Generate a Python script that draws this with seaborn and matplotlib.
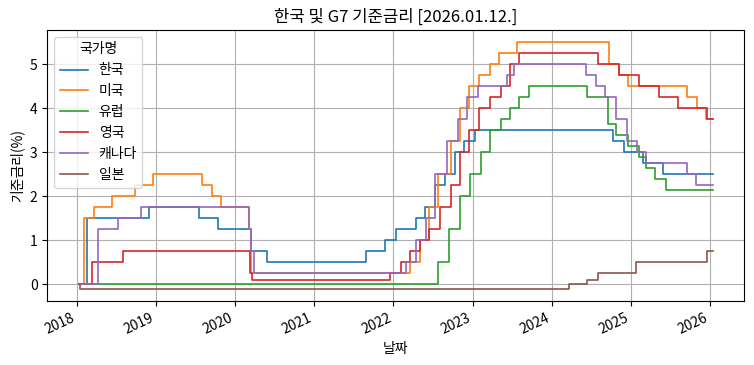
import matplotlib
matplotlib.use("Agg")
import matplotlib.pyplot as plt
import seaborn as sns
import pandas as pd

plt.rcParams['font.family'] = ['Noto Sans CJK KR', 'DejaVu Sans']
plt.rcParams['axes.unicode_minus'] = False

countries = ["한국", "미국", "유럽", "영국", "캐나다", "일본"]

dates_kr = ["2018-01-12", "2018-02-19", "2018-11-30", "2019-07-18", "2019-10-16", "2020-03-17",
            "2020-05-28", "2021-08-26", "2021-11-25", "2022-01-14", "2022-04-14", "2022-05-26",
            "2022-07-13", "2022-08-25", "2022-10-12", "2022-11-24", "2023-01-13", "2024-10-11",
            "2024-11-28", "2025-02-25", "2025-05-29", "2026-01-12"]
vals_kr = [0, 1.5, 1.75, 1.5, 1.25, 0.75, 0.5, 0.75, 1.0, 1.25, 1.5, 1.75,
           2.25, 2.5, 3.0, 3.25, 3.5, 3.25, 3.0, 2.75, 2.5, 2.5]

dates_us = ["2018-01-12", "2018-02-03", "2018-03-22", "2018-06-14", "2018-09-27", "2018-12-20",
            "2019-08-01", "2019-09-19", "2019-10-31", "2020-03-04", "2020-03-16", "2022-03-17",
            "2022-05-05", "2022-06-16", "2022-07-28", "2022-09-22", "2022-11-03", "2022-12-15",
            "2023-02-02", "2023-03-23", "2023-05-04", "2023-07-27", "2024-09-19", "2024-11-08",
            "2024-12-19", "2025-09-18", "2025-10-30", "2025-12-11", "2026-01-12"]
vals_us = [0, 1.5, 1.75, 2.0, 2.25, 2.5, 2.25, 2.0, 1.75, 1.25, 0.25, 0.5,
           1.0, 1.75, 2.5, 3.25, 4.0, 4.5, 4.75, 5.0, 5.25, 5.5, 5.0, 4.75,
           4.5, 4.25, 4.0, 3.75, 3.75]

dates_eu = ["2018-01-12", "2022-07-27", "2022-09-14", "2022-11-02", "2022-12-21", "2023-02-08",
            "2023-03-22", "2023-05-10", "2023-06-21", "2023-08-02", "2023-09-20", "2024-06-12",
            "2024-09-18", "2024-10-23", "2024-12-18", "2025-02-05", "2025-03-12", "2025-04-23",
            "2025-06-11", "2026-01-12"]
vals_eu = [0, 0.5, 1.25, 2.0, 2.5, 3.0, 3.5, 3.75, 4.0, 4.25, 4.5, 4.25,
           3.65, 3.4, 3.15, 2.9, 2.65, 2.4, 2.15, 2.15]

dates_uk = ["2018-01-12", "2018-03-15", "2018-08-02", "2020-03-11", "2020-03-19", "2021-12-16",
            "2022-02-03", "2022-03-17", "2022-05-05", "2022-06-16", "2022-08-04", "2022-09-22",
            "2022-11-03", "2022-12-15", "2023-02-02", "2023-03-23", "2023-05-11", "2023-06-22",
            "2023-08-03", "2024-08-01", "2024-11-07", "2025-02-06", "2025-05-08", "2025-08-07",
            "2025-12-18", "2026-01-12"]
vals_uk = [0, 0.5, 0.75, 0.25, 0.1, 0.25, 0.5, 0.75, 1.0, 1.25, 1.75, 2.25,
           3.0, 3.5, 4.0, 4.25, 4.5, 5.0, 5.25, 5.0, 4.75, 4.5, 4.25, 4.0,
           3.75, 3.75]

dates_ca = ["2018-01-12", "2018-04-08", "2018-07-11", "2018-10-24", "2020-03-04", "2020-03-16",
            "2020-03-27", "2022-03-02", "2022-04-13", "2022-06-01", "2022-07-13", "2022-09-07",
            "2022-10-26", "2022-12-07", "2023-01-25", "2023-06-07", "2023-07-12", "2024-06-05",
            "2024-07-24", "2024-09-04", "2024-10-23", "2024-12-11", "2025-01-29", "2025-03-12",
            "2025-09-17", "2025-10-29", "2026-01-12"]
vals_ca = [0, 1.25, 1.5, 1.75, 1.25, 0.75, 0.25, 0.5, 1.0, 1.5, 2.5, 3.25,
           3.75, 4.25, 4.5, 4.75, 5.0, 4.75, 4.5, 4.25, 3.75, 3.25, 3.0, 2.75,
           2.5, 2.25, 2.25]

dates_jp = ["2018-01-12", "2018-01-16", "2024-03-19", "2024-06-10", "2024-07-31", "2025-01-24",
            "2025-12-19", "2026-01-12"]
vals_jp = [0, -0.1, 0.0, 0.1, 0.25, 0.5, 0.75, 0.75]

series = [(dates_kr, vals_kr), (dates_us, vals_us), (dates_eu, vals_eu),
          (dates_uk, vals_uk), (dates_ca, vals_ca), (dates_jp, vals_jp)]

frames = []
for name, (d, v) in zip(countries, series):
    frames.append(pd.DataFrame({"날짜": pd.to_datetime(d), "기준금리(%)": v, "국가명": name}))
df = pd.concat(frames, ignore_index=True)

fig, ax = plt.subplots(figsize=(7.54, 3.65), dpi=100)
sns.lineplot(data=df, x="날짜", y="기준금리(%)", hue="국가명", hue_order=countries,
             drawstyle="steps-post", estimator=None, linewidth=1.2, ax=ax)
ax.grid(True, color="#b0b0b0", linewidth=0.8)
ax.set_title("한국 및 G7 기준금리 [2026.01.12.]", fontsize=12)
ax.set_xlabel("날짜", fontsize=10)
ax.set_ylabel("기준금리(%)", fontsize=10)
ax.legend(title="국가명", loc="upper left", fontsize=10, title_fontsize=10)
for lbl in ax.get_xticklabels():
    lbl.set_rotation(25)
    lbl.set_ha("right")
fig.subplots_adjust(left=0.0627, right=0.9871, top=0.918, bottom=0.175)
fig.savefig("out.png", dpi=100)
